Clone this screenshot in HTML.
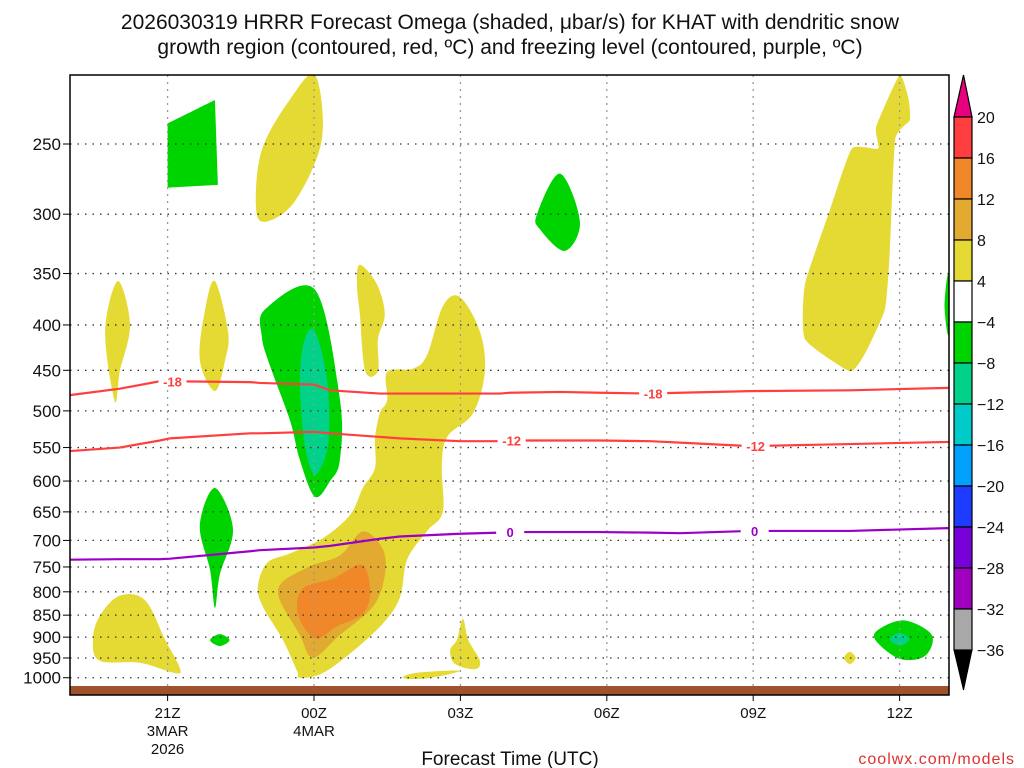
<!DOCTYPE html>
<html><head><meta charset="utf-8"><style>
html,body{margin:0;padding:0;background:#fff;width:1024px;height:768px;overflow:hidden}
svg{display:block;font-family:"Liberation Sans","DejaVu Sans",sans-serif}
</style></head><body>
<svg id="chart" width="1024" height="768" viewBox="0 0 1024 768" xmlns="http://www.w3.org/2000/svg">
<text x="510" y="29" text-anchor="middle" font-size="21" fill="#111">2026030319 HRRR Forecast Omega (shaded, μbar/s) for KHAT with dendritic snow</text>
<text x="510" y="54" text-anchor="middle" font-size="21" fill="#111">growth region (contoured, red, ºC) and freezing level (contoured, purple, ºC)</text>
<g id="fills"></g>
<g id="grid"></g>
<g id="lines"></g>
<rect x="70" y="686" width="879" height="9" fill="#a0522d"/>
<rect x="70" y="75" width="879" height="620" fill="none" stroke="#000" stroke-width="1.5"/>
<g id="axes"></g>
<g id="cbar"></g>
<text x="510" y="765" text-anchor="middle" font-size="19" fill="#111">Forecast Time (UTC)</text>
<text x="1015" y="764" text-anchor="end" font-size="16" fill="#e03030" letter-spacing="1">coolwx.com/models</text>
</svg>
<script>
// hours since 19Z 3 Mar
const xTickHours=[2,5,8,11,14,17];
const xTickLabels=["21Z","00Z","03Z","06Z","09Z","12Z"];
const xSubLabels=[["3MAR","2026"],["4MAR"],[],[],[],[]];
const yTicks=[250,300,350,400,450,500,550,600,650,700,750,800,850,900,950,1000];
const cbarLabels=[20,16,12,8,4,-4,-8,-12,-16,-20,-24,-28,-32,-36];
const cbarColors=["#ff3f3f","#f0882a","#e2aa30","#e5da33","#ffffff","#00d400","#00d28a","#00cbc8","#00a0ff","#1e3cff","#7800d8","#a000c0","#a8a8a8"];
const yellow=[[4.5,223],[5.02,209],[5.16,247],[4.61,290],[4.0,306],[3.81,294],[3.93,254]];
const yellowRight=[[17.0,209],[17.18,222],[17.21,235],[16.91,247],[16.8,330],[16.7,384],[16.3,430],[15.98,451],[15.06,415],[15.06,360],[15.57,297],[16.02,253],[16.56,253],[16.52,239]];
const yellowLeft1=[[0.98,357],[1.23,400],[1.02,451],[0.92,488],[0.72,407]];
const yellowLeft2=[[2.97,357],[3.24,407],[3.18,438],[2.97,475],[2.66,438],[2.77,384]];
const yellowMid=[[5.94,342],[6.29,360],[6.45,389],[6.31,415],[6.31,451],[6.05,451],[5.94,389],[5.88,360]];
const yellowBig=[[7.99,372],[8.40,407],[8.50,452],[8.26,503],[7.73,535],[7.62,577],[7.64,650],[7.32,683],[6.91,735],[6.76,812],[6.41,869],[5.74,939],[5.16,989],[4.71,1000],[4.65,982],[4.36,906],[3.95,831],[3.85,789],[4.04,742],[4.51,724],[5.18,696],[5.74,655],[6.0,611],[6.25,580],[6.25,537],[6.35,503],[6.5,486],[6.5,452],[7.03,448],[7.32,432],[7.64,381]];
const goldBig=[[6.0,684],[6.41,716],[6.45,767],[6.21,831],[5.53,895],[4.98,949],[4.71,895],[4.26,797],[4.86,751],[5.53,728]];
const orangeBig=[[5.98,746],[6.15,800],[6.0,847],[5.47,875],[5.02,903],[4.67,847],[4.77,793],[5.39,773]];
const yellowBL=[[1.02,808],[1.54,818],[1.95,906],[2.25,975],[2.15,988],[1.43,962],[0.61,957],[0.47,906],[0.61,852]];
const yellow03=[[8.05,858],[8.16,906],[8.40,957],[8.3,978],[7.89,965],[7.79,931],[7.93,906]];
const yellowThin=[[6.86,995],[7.2,986],[7.99,982],[7.4,1000],[6.9,1003]];
const yellowDot=[[15.98,935],[16.1,950],[15.98,965],[15.86,950]];
const greenBlock=[[2.0,237],[2.97,223],[3.03,278],[2.0,280]];
const green06=[[10.04,270],[10.45,306],[10.14,330],[9.63,312],[9.57,300]];
const greenBig=[[4.0,384],[5.02,365],[5.53,485],[5.53,568],[5.33,600],[5.02,625],[4.71,568],[4.51,513],[4.10,445],[3.93,412]];
const tealBig=[[5.02,407],[5.27,462],[5.29,545],[5.02,590],[4.81,545],[4.71,462],[4.81,415]];
const green21=[[2.97,611],[3.34,680],[3.07,765],[2.97,834],[2.87,756],[2.66,673]];
const greenTiny=[[3.07,893],[3.27,907],[3.07,921],[2.87,907]];
const green12=[[16.6,880],[17.11,862],[17.66,895],[17.52,945],[17.0,952],[16.5,906]];
const teal12=[[17.0,890],[17.2,905],[17.0,920],[16.8,905]];
const greenEdge=[[18.0,350],[17.92,380],[18.0,410]];
const lineHours=[0,1.02,1.84,2.05,3.69,3.89,5,5.33,6.35,6.76,7.99,8.81,9.02,10.04,10.86,11.89,12.5,13.93,15.98,18];
const t18=[480,472,463,463,464,465,467,474,478,478,478,478,477,476,477,478,477,475,474,471];
const t12=[555,550,540,537,530,530,528,530,535,537,541,541,540,540,540,541,543,548,545,542];
const t0=[736,735,735,734,720,718,713,710,697,693,688,686,685,685,685,686,687,683,683,678];
const NS="http://www.w3.org/2000/svg";
const X=h=>70+48.8*h;
const Y=p=>144+385*Math.log(p/250);
function mk(tag,at,parent){const e=document.createElementNS(NS,tag);for(const k in at)e.setAttribute(k,at[k]);parent.appendChild(e);return e;}
function smooth(pts,k){const P=pts.map(q=>[X(q[0]),Y(q[1])]);const n=P.length;let d=`M${P[0][0]},${P[0][1]}`;
 for(let i=0;i<n;i++){const p0=P[(i-1+n)%n],p1=P[i],p2=P[(i+1)%n],p3=P[(i+2)%n];
 d+=` C${p1[0]+(p2[0]-p0[0])*k},${p1[1]+(p2[1]-p0[1])*k} ${p2[0]-(p3[0]-p1[0])*k},${p2[1]-(p3[1]-p1[1])*k} ${p2[0]},${p2[1]}`;}return d+'Z';}
const fills=document.getElementById('fills');
mk('clipPath',{id:'pc'},fills);
mk('rect',{x:70,y:75,width:879,height:620},fills.lastChild);
const fg=mk('g',{'clip-path':'url(#pc)'},fills);
const shapes=[[yellow,'#e5da33','yellow-top',1/6],[yellowRight,'#e5da33','yellow-right',0.08],[yellowLeft1,'#e5da33','yellow-left1',1/6],[yellowLeft2,'#e5da33','yellow-left2',1/6],[yellowMid,'#e5da33','yellow-mid',1/6],[yellowBig,'#e5da33','yellow-big',1/6],[goldBig,'#e2aa30','gold-big',1/6],[orangeBig,'#f0882a','orange-big',1/6],[yellowBL,'#e5da33','yellow-bottom-left',1/6],[yellow03,'#e5da33','yellow-03z',1/6],[yellowThin,'#e5da33','yellow-thin',1/6],[yellowDot,'#e5da33','yellow-dot',1/6],[greenBlock,'#00d400','green-block',0],[green06,'#00d400','green-06z',1/6],[greenBig,'#00d400','green-big',1/6],[tealBig,'#00d28a','teal-big',1/6],[green21,'#00d400','green-21z',1/6],[greenTiny,'#00d400','green-tiny',1/6],[green12,'#00d400','green-12z',1/6],[teal12,'#00d28a','teal-12z',1/6],[greenEdge,'#00d400','green-edge',1/6]];
shapes.forEach(s=>{const el=mk('path',{d:smooth(s[0],s[3]),fill:s[1]},fg);

});
const grid=document.getElementById('grid');
yTicks.forEach(p=>{const l=mk('line',{x1:70,x2:949,y1:Y(p),y2:Y(p),stroke:'#333','stroke-width':1.3,'stroke-dasharray':'1.5 6'},grid);

});
xTickHours.forEach(h=>{const l=mk('line',{x1:X(h),x2:X(h),y1:75,y2:695,stroke:'#999','stroke-width':1.3,'stroke-dasharray':'2 5'},grid);

});
const lines=document.getElementById('lines');
function drawLine(vals,col,name,labels,lbl){const d=lineHours.map((h,i)=>(i?'L':'M')+X(h)+','+Y(vals[i])).join(' ');
 const el=mk('path',{d,fill:'none',stroke:col,'stroke-width':2.2},lines);
 
 
 labels.forEach(h=>{let i=0;while(i<lineHours.length-2&&lineHours[i+1]<h)i++;const f=(h-lineHours[i])/(lineHours[i+1]-lineHours[i]);const p=vals[i]+(vals[i+1]-vals[i])*f;
 mk('rect',{x:X(h)-14,y:Y(p)-8,width:28,height:16,fill:'#fff'},lines);
 const t=mk('text',{x:X(h),y:Y(p)+5,'text-anchor':'middle','font-size':13,'font-weight':'bold',fill:col},lines);t.textContent=lbl;
 
 });}
drawLine(t18,'#ff3f3f','contour-minus18',[2.1,11.95],'-18');
drawLine(t12,'#ff3f3f','contour-minus12',[9.05,14.05],'-12');
drawLine(t0,'#9a00c8','freezing-level-0',[9.02,14.03],'0');
const axes=document.getElementById('axes');
yTicks.forEach(p=>{mk('line',{x1:63,x2:70,y1:Y(p),y2:Y(p),stroke:'#000'},axes);
 const t=mk('text',{x:61,y:Y(p)+6,'text-anchor':'end','font-size':17,fill:'#111'},axes);t.textContent=p;
 
 });
xTickHours.forEach((h,i)=>{mk('line',{x1:X(h),x2:X(h),y1:695,y2:701,stroke:'#000'},axes);
 const t=mk('text',{x:X(h),y:718,'text-anchor':'middle','font-size':15,fill:'#111'},axes);t.textContent=xTickLabels[i];
 
 
 xSubLabels[i].forEach((s,j)=>{const u=mk('text',{x:X(h),y:736+j*18,'text-anchor':'middle','font-size':15,fill:'#111'},axes);u.textContent=s;
 
 });});
const cb=document.getElementById('cbar');
const cy0=117,cstep=(650-117)/13;
mk('polygon',{points:`954,${cy0} 963.5,75 972,${cy0}`,fill:'#e8007f',stroke:'#000','stroke-width':1.2},cb);
cbarColors.forEach((c,i)=>{const r=mk('rect',{x:954,y:cy0+i*cstep,width:18,height:cstep,fill:c,stroke:'#000','stroke-width':1.2},cb);
 
 });
mk('polygon',{points:`954,650 963.5,690 972,650`,fill:'#000',stroke:'#000'},cb);
cbarLabels.forEach((v,i)=>{const t=mk('text',{x:977,y:cy0+i*cstep+6,'font-size':16,fill:'#111'},cb);t.textContent=v<0?'\u2212'+(-v):v;
 
 });
</script>
</body></html>
